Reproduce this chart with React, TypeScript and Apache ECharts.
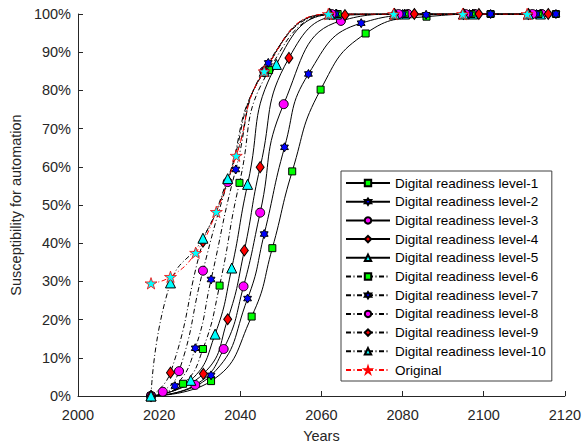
import React, { useEffect, useRef } from "react";
import * as echarts from "echarts";

const FONT = "'Liberation Sans', Arial, Helvetica, sans-serif";

const xMin = 2000;
const xMax = 2120;
const xStep = 20;
const yMin = 0;
const yMax = 100;
const yStep = 10;

const seriesNames = [
  "Digital readiness level-1",
  "Digital readiness level-2",
  "Digital readiness level-3",
  "Digital readiness level-4",
  "Digital readiness level-5",
  "Digital readiness level-6",
  "Digital readiness level-7",
  "Digital readiness level-8",
  "Digital readiness level-9",
  "Digital readiness level-10",
  "Original",
];

// [year, susceptibility %, 1 = marker shown / 0 = curve point only]
const level1 = [[2018, 0, 1], [2032.8, 3.9, 1], [2042.8, 20.8, 1], [2047.9, 38.7, 1], [2052.8, 58.8, 1], [2059.8, 80.2, 1], [2070.9, 94.9, 1], [2085.9, 99.3, 1], [2101.7, 100, 1], [2117.8, 100, 1]];
const level2 = [[2018, 0, 1], [2032.8, 5.4, 1], [2041.8, 25.5, 1], [2045.9, 42.4, 1], [2050.9, 65.1, 1], [2056.8, 84.3, 1], [2069.8, 97.6, 1], [2085.8, 99.8, 1], [2101.7, 100, 1], [2117.8, 100, 1]];
const level3 = [[2018, 0, 1], [2028.9, 2.9, 1], [2035.9, 12.3, 1], [2040.8, 28.7, 1], [2044.9, 48.0, 1], [2050.7, 76.4, 1], [2064.8, 98.2, 1], [2081.3, 100, 1], [2097.8, 100, 1], [2114.3, 100, 1]];
const level4 = [[2018, 0, 1], [2030.9, 5.8, 1], [2036.9, 20.1, 1], [2041.0, 38.1, 1], [2044.9, 59.9, 1], [2052.0, 88.5, 1], [2065.8, 99.7, 1], [2082.9, 100, 1], [2098.8, 100, 1], [2115.9, 100, 1]];
const level5 = [[2018, 0, 1], [2027.8, 4.1, 1], [2033.8, 16.2, 1], [2037.9, 33.5, 1], [2041.8, 55.4, 1], [2048.9, 86.8, 1], [2063.7, 100, 1], [2080.5, 100, 1], [2097.3, 100, 1], [2114.0, 100, 1]];
const level6 = [[2018, 0, 1], [2025.9, 3.2, 1], [2030.8, 12.3, 1], [2034.9, 28.9, 1], [2039.8, 55.8, 1], [2047.1, 85.3, 1], [2064.0, 100, 1], [2080.5, 100, 1], [2097.0, 100, 1], [2113.5, 100, 1]];
const level7 = [[2018, 0, 1], [2023.9, 2.6, 1], [2028.9, 12.5, 1], [2032.8, 30.5, 1], [2038.9, 59.3, 1], [2046.9, 87.2, 1], [2063.5, 100, 1], [2080.0, 100, 1], [2096.5, 100, 1], [2113.0, 100, 1]];
const level8 = [[2018, 0, 1], [2020.9, 1.1, 1], [2024.9, 6.5, 1], [2030.8, 32.8, 1], [2036.9, 56.0, 1], [2045.9, 85.0, 1], [2062.5, 100, 1], [2079.0, 100, 1], [2095.5, 100, 1], [2112.0, 100, 1]];
const level9 = [[2018, 0, 1], [2022.8, 6.1, 1], [2030.8, 40.4, 1], [2034.1, 48.2, 0], [2039.0, 62.9, 0], [2045.9, 85.0, 1], [2062.0, 100, 1], [2078.0, 100, 1], [2095.0, 100, 1], [2111.0, 100, 1]];
const level10 = [[2018, 0, 1], [2022.8, 29.6, 1], [2030.8, 41.3, 1], [2036.9, 56.9, 1], [2045.9, 85.0, 1], [2062.0, 100, 1], [2078.0, 100, 1], [2095.0, 100, 1], [2111.0, 100, 1]];
const original = [[2018, 29.5, 1], [2022.8, 31.2, 1], [2029.0, 37.5, 1], [2034.1, 48.2, 1], [2039.0, 62.9, 1], [2045.9, 85.0, 1], [2061.7, 100, 1], [2077.8, 100, 1], [2094.8, 100, 1], [2110.7, 100, 1]];

const HEXAGRAM = "path://M10 0 L12.887 5 L18.66 5 L15.774 10 L18.66 15 L12.887 15 L10 20 L7.113 15 L1.34 15 L4.226 10 L1.34 5 L7.113 5 Z";
const PENTAGRAM = "path://M10 0 L12.245 6.91 L19.511 6.91 L13.633 11.18 L15.878 18.09 L10 13.82 L4.122 18.09 L6.367 11.18 L0.489 6.91 L7.755 6.91 Z";

const DASHDOT = [5, 2.5, 1, 2.5];

const markerStyles = [
  { symbol: "rect", size: 7, fill: "#00ff00" },
  { symbol: HEXAGRAM, size: 9, fill: "#0000ff" },
  { symbol: "circle", size: 9, fill: "#ff00ff" },
  { symbol: "diamond", size: [8, 11], fill: "#ff0000" },
  { symbol: "triangle", size: 10, fill: "#00ffff" },
];

export default function App() {
  const ref = useRef<HTMLDivElement>(null);
  useEffect(() => {
    if (!ref.current) return;
    const chart = echarts.init(ref.current, undefined, { renderer: "svg" });
    const all = [level1, level2, level3, level4, level5, level6, level7, level8, level9, level10];
    const series: any[] = all.map((pts, i) => {
      const m = markerStyles[i % 5];
      return {
        name: seriesNames[i],
        type: "line",
        smooth: 0.5,
        symbol: m.symbol,
        symbolSize: m.size,
        symbolKeepAspect: true,
        showAllSymbol: true,
        data: pts.map((p) => (p[2] ? { value: [p[0], p[1]] } : { value: [p[0], p[1]], symbol: "none" })),
        lineStyle: { color: "#000", width: 1, type: i < 5 ? "solid" : DASHDOT },
        itemStyle: { color: m.fill, borderColor: "#000", borderWidth: 1 },
        emphasis: { disabled: true },
      };
    });
    series.push({
      name: seriesNames[10],
      type: "line",
      smooth: 0.5,
      symbol: PENTAGRAM,
      symbolSize: 12,
      symbolKeepAspect: true,
      showAllSymbol: true,
      data: original.map((p) => (p[2] ? { value: [p[0], p[1]] } : { value: [p[0], p[1]], symbol: "none" })),
      lineStyle: { color: "#ff0000", width: 1, type: DASHDOT },
      itemStyle: { color: "#00ffff", borderColor: "#ff0000", borderWidth: 0.8 },
      emphasis: { disabled: true },
    });

    const axisColor = "#262626";
    chart.setOption({
      animation: false,
      backgroundColor: "#fff",
      grid: { left: 77, right: 15, top: 14, bottom: 49, containLabel: false },
      xAxis: {
        type: "value",
        min: xMin,
        max: xMax,
        interval: xStep,
        name: "Years",
        nameLocation: "middle",
        nameGap: 32,
        nameTextStyle: { fontSize: 14.5, color: axisColor, fontFamily: FONT },
        axisLine: { show: true, onZero: false, lineStyle: { color: axisColor, width: 1 } },
        axisTick: { show: true, inside: true, length: 5, lineStyle: { color: axisColor } },
        axisLabel: { fontSize: 14.5, color: axisColor, fontFamily: FONT, margin: 11, formatter: (v: number) => String(v) },
        splitLine: { show: false },
      },
      yAxis: {
        type: "value",
        min: yMin,
        max: yMax,
        interval: yStep,
        name: "Susceptibility for automation",
        nameLocation: "middle",
        nameGap: 51,
        nameTextStyle: { fontSize: 14.5, color: axisColor, fontFamily: FONT },
        axisLine: { show: true, lineStyle: { color: axisColor, width: 1 } },
        axisTick: { show: true, inside: true, length: 5, lineStyle: { color: axisColor } },
        axisLabel: { fontSize: 14.5, color: axisColor, fontFamily: FONT, margin: 7, formatter: "{value}%" },
        splitLine: { show: false },
      },
      legend: {
        orient: "vertical",
        left: 341,
        top: 171,
        padding: [5, 6, 4, 4],
        itemWidth: 44,
        itemHeight: 8,
        itemGap: 4.7,
        borderColor: "#404040",
        borderWidth: 1,
        backgroundColor: "#fff",
        textStyle: { fontSize: 13.5, color: "#000", fontFamily: FONT },
        data: seriesNames,
        selectedMode: false,
      },
      series,
    });
    return () => chart.dispose();
  }, []);
  return <div ref={ref} style={{ position: "absolute", left: 0, top: 0, width: 584, height: 448 }} />;
}
